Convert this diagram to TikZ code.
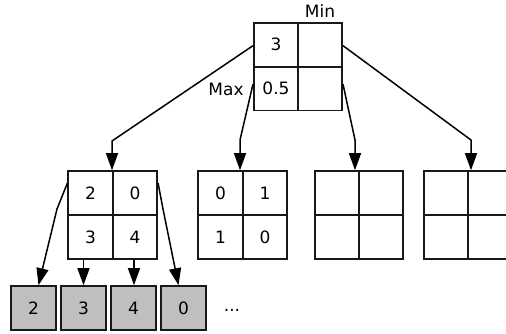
\documentclass[tikz,border=0pt]{standalone}
\usepackage{fontspec}
\setmainfont{DejaVu Sans}
\usetikzlibrary{arrows.meta}
\begin{document}
\begin{tikzpicture}[x=1pt,y=-1pt,
  cell/.style={draw=black!90,line width=1.6pt,minimum width=44.5pt,minimum height=44pt,inner sep=0pt,font=\fontsize{17}{17}\selectfont,anchor=center},
  leaf/.style={draw=black!90,line width=1.6pt,fill=black!25,minimum width=45pt,minimum height=44pt,inner sep=0pt,font=\fontsize{17}{17}\selectfont},
  lbl/.style={inner sep=0pt,font=\fontsize{17}{17}\selectfont},
  conn/.style={line width=1.5pt,-{Triangle[length=17pt,width=12pt]}}]
\useasboundingbox (0,0) rectangle (506,333);
\begin{scope}
\clip (0,0) rectangle (506,333);
% top box
\node[cell] (t11) at (276,44.7) {3};
\node[cell] (t12) at (320,44.7) {};
\node[cell] (t21) at (276,88.3) {0.5};
\node[cell] (t22) at (320,88.3) {};
\node[lbl] (min) at (320,11) {Min};
\node[lbl] (max) at (226,89) {Max};
% second level
\node[cell] (a11) at (90.5,193) {2};
\node[cell] (a12) at (135,193) {0};
\node[cell] (a21) at (90.5,237) {3};
\node[cell] (a22) at (135,237) {4};
\node[cell] (b11) at (220.5,193) {0};
\node[cell] (b12) at (265,193) {1};
\node[cell] (b21) at (220.5,237) {1};
\node[cell] (b22) at (265,237) {0};
\node[cell] (c11) at (337,193) {};
\node[cell] (c12) at (381,193) {};
\node[cell] (c21) at (337,237) {};
\node[cell] (c22) at (381,237) {};
\node[cell] (d11) at (446,193) {};
\node[cell] (d12) at (490,193) {};
\node[cell] (d21) at (446,237) {};
\node[cell] (d22) at (490,237) {};
% leaves
\node[leaf] (l1) at (33.5,308) {2};
\node[leaf] (l2) at (83.5,308) {3};
\node[leaf] (l3) at (133.5,308) {4};
\node[leaf] (l4) at (183.5,308) {0};
\node[lbl] (dots) at (232,310) {...};
% bend coordinates
\coordinate (p1) at (112,141);
\coordinate (p2) at (240,140);
\coordinate (p3) at (355,140);
\coordinate (p4) at (471,140);
\coordinate (q1) at (57,209);
\coordinate (q4) at (163,209);
\draw[conn] ([yshift=-1pt]t11.west) -- (p1) -- (p1 |- a11.north);
\draw[conn] ([yshift=4pt]t21.west) -- (p2) -- (p2 |- b11.north);
\draw[conn] ([yshift=4pt]t22.east) -- (p3) -- (p3 |- c11.north);
\draw[conn] ([yshift=-1pt]t12.east) -- (p4) -- (p4 |- d11.north);
\draw[conn] ([yshift=10pt]a11.west) -- (q1) -- ([xshift=5pt]l1.north);
\draw[conn] ([xshift=-7pt]a21.south) -- ([xshift=-7pt]a21.south |- l2.north);
\draw[conn] ([xshift=-1pt]a22.south) -- ([xshift=-1pt]a22.south |- l3.north);
\draw[conn] ([yshift=10pt]a12.east) -- (q4) -- ([xshift=-5pt]l4.north);
\end{scope}
\end{tikzpicture}
\end{document}
